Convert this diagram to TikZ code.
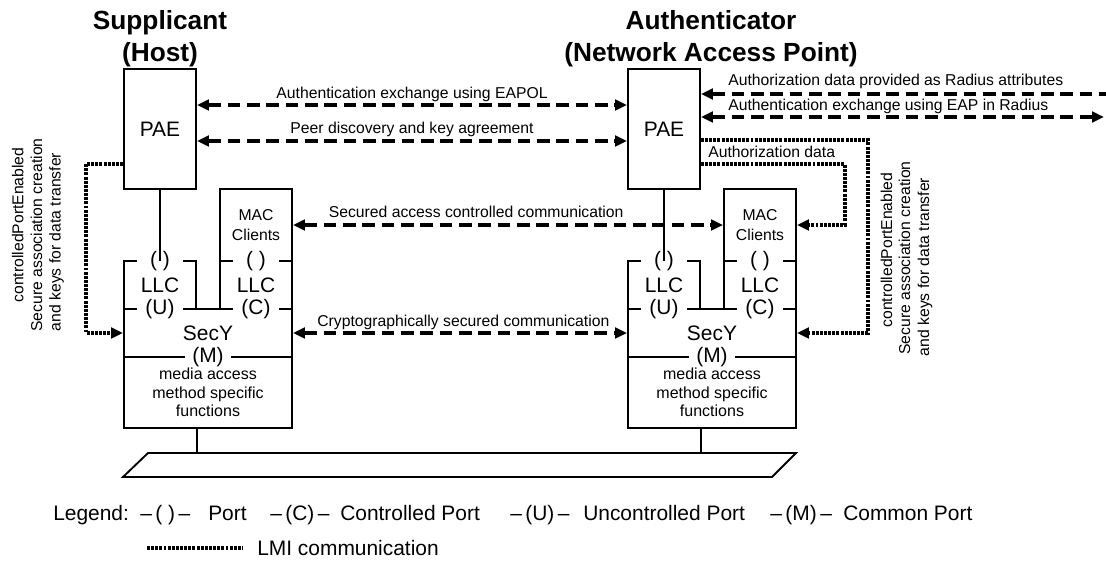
\documentclass[tikz,border=0pt]{standalone}
\usepackage{fontspec}
\setmainfont{Liberation Sans}
\usetikzlibrary{arrows.meta}
\begin{document}
\begin{tikzpicture}[x=0.75pt,y=-0.75pt,
  >={Triangle[length=9pt,width=8pt]},
  box/.style={draw, line width=1.4pt, inner sep=0pt},
  big/.style={font=\fontsize{15.7}{19}\selectfont},
  lbl/.style={font=\fontsize{11.8}{14}\selectfont, inner sep=0pt},
  title/.style={font=\fontsize{19.7}{24}\selectfont\bfseries, align=center, inner sep=0pt},
  port/.style={big, fill=white, inner xsep=0pt, inner ysep=-5pt, minimum width=35pt},
  dasharr/.style={line width=2.5pt, dash pattern=on 9.5pt off 5pt},
  lmi/.style={line width=2.4pt, dash pattern=on 2.2pt off 0.9pt},
  wire/.style={line width=1.4pt},
  rot/.style={lbl, rotate=90, anchor=base}
]
\useasboundingbox (0,0) rectangle (1106,561);

% titles
\node[title] (tS) at (160,39) {Supplicant\\(Host)};
\node[title] (tA) at (711,39) {Authenticator\\(Network Access Point)};

% two stations
\foreach \p/\dx in {L/0,R/504}{
  \node[box, big, minimum width=54pt, minimum height=90pt] (\p pae) at (\dx+160,129) {PAE};
  \node[box, align=center, font=\fontsize{11.8}{15}\selectfont, minimum width=54pt, minimum height=54pt] (\p mac) at (\dx+256,225) {MAC\\Clients};
  \node[box, big, minimum width=54pt, minimum height=36pt] (\p llcc) at (\dx+256,285) {LLC};
  \node[box, big, minimum width=54pt, minimum height=36pt] (\p llcu) at (\dx+160,285) {LLC};
  \node[box, big, minimum width=126pt, minimum height=36pt] (\p secy) at (\dx+208,333) {SecY};
  \node[box, align=center, font=\fontsize{12}{13.9}\selectfont, minimum width=126pt, minimum height=53.25pt] (\p media) at (\dx+208,392.5) {media access\\method specific\\functions};
  \node[port] (\p pu) at (\dx+160,261) {( )};
  \node[port] (\p pc) at (\dx+256,261) {( )};
  \node[port] (\p u) at (\dx+160,309) {(U)};
  \node[port] (\p c) at (\dx+256,309) {(C)};
  \node[port] (\p m) at (\dx+208,357) {(M)};
  \draw[wire] (\p pae.south) -- (\p pu.center);
}

% bus
\coordinate (bTL) at (148,453);
\coordinate (bTR) at (796,453);
\coordinate (bBR) at (772,477);
\coordinate (bBL) at (123,477);
\draw[wire] (bTL) -- (bTR) -- (bBR) -- (bBL) -- cycle;
\draw[wire] (Lllcu.east |- Lmedia.south) -- (Lllcu.east |- bTL);
\draw[wire] (Rllcu.east |- Rmedia.south) -- (Rllcu.east |- bTL);

% dashed exchanges
\draw[dasharr,<->] ([yshift=18pt]Lpae.east) -- ([yshift=18pt]Rpae.west)
  node[lbl, midway, anchor=base, yshift=5.25pt] (l1) {Authentication exchange using EAPOL};
\draw[dasharr,<->] ([yshift=-9pt]Lpae.east) -- ([yshift=-9pt]Rpae.west)
  node[lbl, midway, anchor=base, yshift=6pt] (l2) {Peer discovery and key agreement};
\draw[dasharr,<->] (Lmac.east) -- (Rmac.west)
  node[lbl, pos=0.426, anchor=base, yshift=6pt] (l3) {Secured access controlled communication};
\draw[dasharr,<->] (Lsecy.east) -- (Rsecy.west)
  node[lbl, pos=0.51, anchor=base, yshift=5.25pt] (l4) {Cryptographically secured communication};

% radius
\coordinate (radA) at (1106,94);
\coordinate (radB) at (1104,117);
\draw[dasharr,<-] ([yshift=26.25pt]Rpae.east) -- (radA);
\draw[dasharr,<->] ([yshift=9pt]Rpae.east) -- (radB);
\node[lbl, anchor=base west] (l5) at (728,85) {Authorization data provided as Radius attributes};
\node[lbl, anchor=base west] (l6) at (728,110) {Authentication exchange using EAP in Radius};

% LMI dotted
\draw[lmi,->] ([yshift=-26.25pt]Lpae.west) -- ++(-37,0) |- (Lsecy.west);
\draw[lmi,->] ([yshift=-8.25pt]Rpae.east) -- ++(167,0) |- (Rsecy.east);
\draw[lmi,->] ([yshift=-26.25pt]Rpae.east) -- ++(144,0) |- (Rmac.east);
\node[lbl, anchor=base west] (l7) at (708,157) {Authorization data};

% rotated texts
\node[rot] (rl1) at (23.5,225) {controlledPortEnabled};
\node[rot] (rl2) at (42,235) {Secure association creation};
\node[rot] (rl3) at (60.5,242) {and keys for data transfer};
\node[rot] (rr1) at (892,250) {controlledPortEnabled};
\node[rot] (rr2) at (910,258) {Secure association creation};
\node[rot] (rr3) at (929,267) {and keys for data transfer};

% legend
\begin{scope}[every node/.style={big, anchor=base west, inner sep=0pt}]
\node (g0) at (53,520) {Legend:};
\node (g1) at (140,520) {–\,( )\,–};
\node (g2) at (208,520) {Port};
\node (g3) at (270,520) {–\,(C)\,–};
\node (g4) at (340,520) {Controlled Port};
\node (g5) at (510,520) {–\,(U)\,–};
\node (g6) at (583,520) {Uncontrolled Port};
\node (g7) at (770,520) {–\,(M)\,–};
\node (g8) at (843,520) {Common Port};
\node (g9) at (257,555) {LMI communication};
\end{scope}
\coordinate (lmiA) at (147,548);
\coordinate (lmiB) at (243,548);
\draw[lmi] (lmiA) -- (lmiB);
\end{tikzpicture}
\end{document}
